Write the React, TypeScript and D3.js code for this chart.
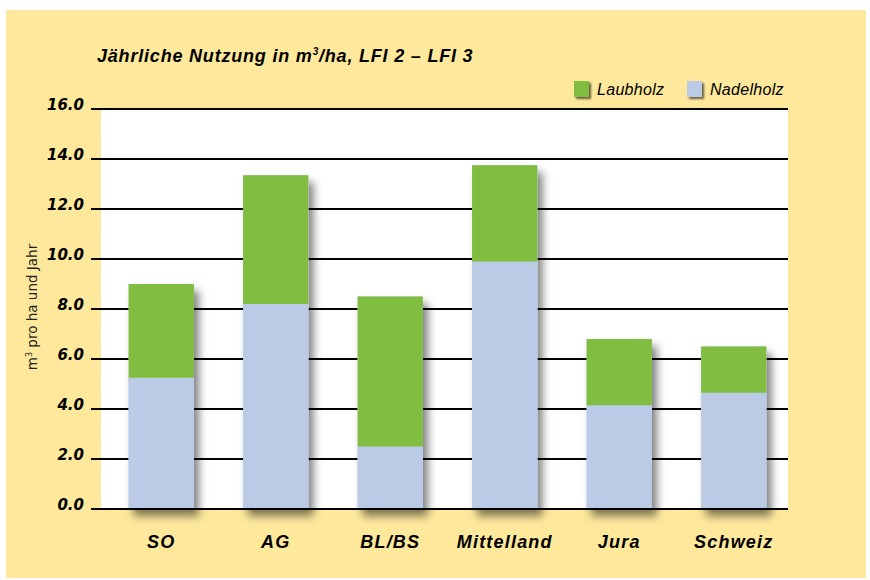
import React, { useEffect, useRef } from 'react';
import * as d3 from 'd3';

const categories = ['SO', 'AG', 'BL/BS', 'Mittelland', 'Jura', 'Schweiz'];
const nadelholz = [5.25, 8.2, 2.5, 9.9, 4.15, 4.65];
const laubholz = [3.75, 5.15, 6.0, 3.85, 2.65, 1.85];
const yTicks = [0, 2, 4, 6, 8, 10, 12, 14, 16];
const seriesNames = ['Nadelholz', 'Laubholz'];
const seriesColors = ['#bccbe5', '#80bd41'];

const W = 870;
const H = 580;

const App = () => {
  const svgRef = useRef<SVGSVGElement>(null);

  useEffect(() => {
    const svg = d3.select(svgRef.current);
    svg.selectAll('*').remove();

    const plot = { left: 101, right: 788, top: 109, bottom: 509 };

    const x = d3.scaleBand().domain(categories).range([104, 791]).paddingInner(0.43).paddingOuter(0.215);
    const y = d3.scaleLinear().domain([0, 16]).range([plot.bottom, plot.top]);

    // shadow filters
    const defs = svg.append('defs');
    const f = defs.append('filter').attr('id', 'shadow').attr('x', '-30%').attr('y', '-30%').attr('width', '170%').attr('height', '170%');
    f.append('feDropShadow')
      .attr('dx', 5).attr('dy', 7).attr('stdDeviation', 4)
      .attr('flood-color', '#000').attr('flood-opacity', 0.5);
    const fs = defs.append('filter').attr('id', 'shadowSmall').attr('x', '-50%').attr('y', '-50%').attr('width', '200%').attr('height', '200%');
    fs.append('feDropShadow')
      .attr('dx', 2).attr('dy', 2).attr('stdDeviation', 1.2)
      .attr('flood-color', '#000').attr('flood-opacity', 0.6);

    // background
    svg.append('rect').attr('x', 6).attr('y', 10).attr('width', 860).attr('height', 568).attr('fill', '#fde89c');
    svg.append('rect')
      .attr('x', plot.left).attr('y', plot.top)
      .attr('width', plot.right - plot.left).attr('height', plot.bottom - plot.top)
      .attr('fill', '#ffffff');

    // gridlines + tick labels
    const grid = svg.append('g');
    grid.selectAll('line').data(yTicks).enter().append('line')
      .attr('x1', 91).attr('x2', plot.right)
      .attr('y1', (d) => y(d)).attr('y2', (d) => y(d))
      .attr('stroke', '#000').attr('stroke-width', 2);
    grid.selectAll('text').data(yTicks).enter().append('text')
      .attr('x', 84).attr('y', (d) => y(d) + 1)
      .attr('text-anchor', 'end')
      .style('font-family', 'DejaVu Sans')
      .style('font-weight', 'bold').style('font-style', 'italic').style('font-size', '15px')
      .text((d) => d.toFixed(1));

    // stacked bars
    const stacked = d3.stack<number>().keys(['0', '1']).value((i, k) => (k === '0' ? nadelholz[i] : laubholz[i]))(
      d3.range(categories.length)
    );
    const bars = svg.append('g');
    // one shadow per whole bar
    bars.selectAll('rect.sh').data(categories).enter().append('rect')
      .attr('class', 'sh')
      .attr('x', (d) => x(d)!)
      .attr('y', (_, i) => y(nadelholz[i] + laubholz[i]))
      .attr('width', x.bandwidth())
      .attr('height', (_, i) => y(0) - y(nadelholz[i] + laubholz[i]))
      .attr('fill', '#bccbe5')
      .attr('filter', 'url(#shadow)');
    stacked.forEach((s, si) => {
      bars.selectAll(`rect.s${si}`).data(s).enter().append('rect')
        .attr('class', `s${si}`)
        .attr('x', (d) => x(categories[d.data])!)
        .attr('y', (d) => y(d[1]))
        .attr('width', x.bandwidth())
        .attr('height', (d) => y(d[0]) - y(d[1]))
        .attr('fill', seriesColors[si]);
    });

    // baseline on top
    svg.append('line')
      .attr('x1', 91).attr('x2', plot.right).attr('y1', y(0)).attr('y2', y(0))
      .attr('stroke', '#000').attr('stroke-width', 2);

    // category labels
    svg.append('g').selectAll('text').data(categories).enter().append('text')
      .attr('x', (d) => x(d)! + x.bandwidth() / 2)
      .attr('y', 548)
      .attr('text-anchor', 'middle')
      .style('font-family', 'Liberation Sans')
      .style('font-weight', 'bold').style('font-style', 'italic').style('font-size', '18px')
      .style('letter-spacing', '1.2px')
      .text((d) => d);

    // title
    const title = svg.append('text')
      .attr('x', 97).attr('y', 62)
      .style('font-family', 'Liberation Sans')
      .style('font-weight', 'bold').style('font-style', 'italic').style('font-size', '18px')
      .style('letter-spacing', '0.8px');
    title.append('tspan').text('Jährliche Nutzung in m');
    title.append('tspan').attr('dy', -7).style('font-size', '10px').text('3');
    title.append('tspan').attr('dy', 7).text('/ha, LFI 2 – LFI 3');

    // y axis label
    const yl = svg.append('text')
      .attr('transform', 'translate(37,307) rotate(-90)')
      .attr('text-anchor', 'middle')
      .style('font-family', 'DejaVu Sans').style('font-size', '13.5px').attr('fill', '#222');
    yl.append('tspan').text('m');
    yl.append('tspan').attr('dy', -5).style('font-size', '8px').text('3');
    yl.append('tspan').attr('dy', 5).text(' pro ha und Jahr');

    // legend
    const legendItems = [
      { name: seriesNames[1], color: seriesColors[1], x: 574 },
      { name: seriesNames[0], color: seriesColors[0], x: 687 },
    ];
    const lg = svg.append('g');
    legendItems.forEach((it) => {
      lg.append('rect').attr('x', it.x).attr('y', 81).attr('width', 15).attr('height', 16)
        .attr('fill', it.color).attr('filter', 'url(#shadowSmall)');
      lg.append('text').attr('x', it.x + 23).attr('y', 95)
        .style('font-family', 'Liberation Sans').style('font-style', 'italic').style('font-size', '16px')
        .style('letter-spacing', '0.3px')
        .text(it.name);
    });
  }, []);

  return <svg ref={svgRef} width={W} height={H} style={{ position: 'absolute', left: 0, top: 0 }} />;
};

export default App;
